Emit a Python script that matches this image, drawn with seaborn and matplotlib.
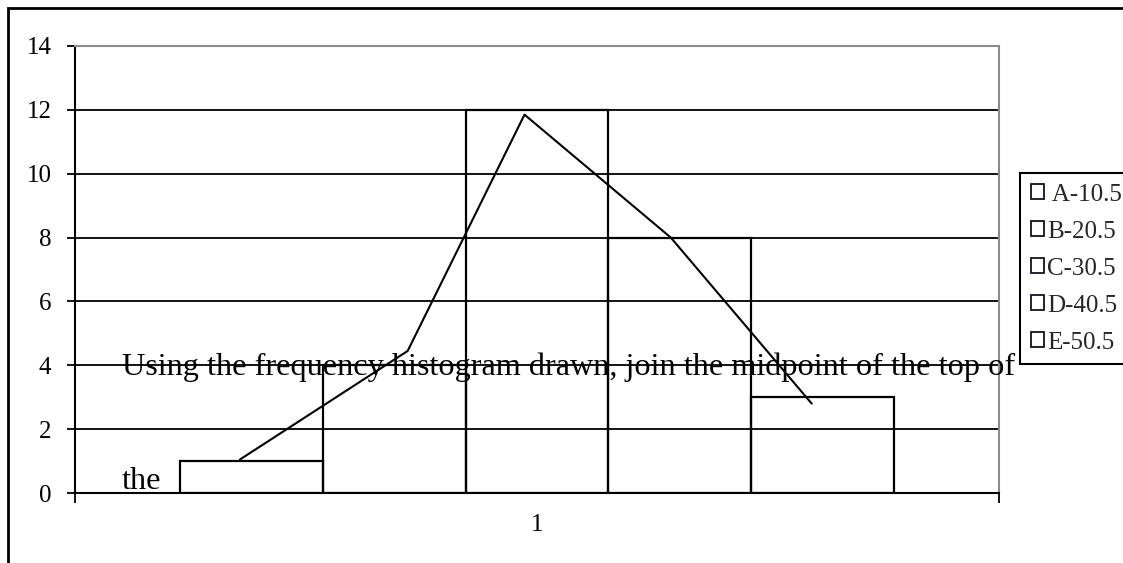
import numpy as np
import pandas as pd
import matplotlib
matplotlib.use("Agg")
import matplotlib.pyplot as plt
from matplotlib.patches import Rectangle
import seaborn as sns

# ---- data ----
category = ["1"]
series = [" A-10.5", "B-20.5", "C-30.5", "D-40.5", "E-50.5"]
frequency = [1, 4, 12, 8, 3]
# hand-drawn frequency polygon (x in category units, y in frequency)
polygon_x = [-0.333, -0.145, -0.014, 0.150, 0.308]
polygon_y = [1.05, 4.45, 11.85, 8.0, 2.8]
yticks = [0, 2, 4, 6, 8, 10, 12, 14]
note_line1 = "Using the frequency histogram drawn, join the midpoint of the top of"
note_line2 = "the"

df = pd.DataFrame({"cat": category * len(series), "series": series, "freq": frequency})

sns.set_theme(style="white")
plt.rcParams["font.family"] = ["Liberation Serif", "DejaVu Serif"]

W, H = 1123, 563
fig = plt.figure(figsize=(W / 100, H / 100), dpi=100)
ax = fig.add_axes([75 / W, 1 - 493 / H, (999 - 75) / W, (493 - 46) / H])

sns.barplot(data=df, x="cat", y="freq", hue="series", palette=["black"] * 5,
            fill=False, linewidth=1.6, ax=ax, width=0.8, legend=True)

ax.plot(polygon_x, polygon_y, color="black", lw=1.5, zorder=5)

ax.set_ylim(0, 14)
ax.set_xlim(-0.518, 0.518)
ax.set_yticks(yticks)
ax.set_yticklabels([str(v) for v in yticks], fontsize=18, color="black")
ax.set_xticks([0])
ax.set_xticklabels(category, fontsize=18, color="black")
ax.set_xlabel("")
ax.set_ylabel("")

ax.set_axisbelow(True)
ax.yaxis.grid(True, color="black", lw=1.3)
ax.xaxis.grid(False)

for s in ["left", "bottom"]:
    ax.spines[s].set_color("black")
    ax.spines[s].set_linewidth(1.5)
for s in ["top", "right"]:
    ax.spines[s].set_color("#8c8c8c")
    ax.spines[s].set_linewidth(1.5)

ax.tick_params(axis="y", which="major", left=True, length=6, width=1.3,
               color="black", pad=11)
ax.tick_params(axis="x", which="major", bottom=False, length=0, pad=15)
ax.set_xticks([-0.518, 0.518], minor=True)
ax.tick_params(axis="x", which="minor", bottom=True, length=7, width=1.3, color="black")

# legend
handles, labels = ax.get_legend_handles_labels()
ax.get_legend().remove()
for h in handles:
    h.set_edgecolor("#1a0f1a")
    h.set_facecolor("white")
    h.set_linewidth(1.3)
leg = fig.legend(handles, labels, loc="upper left",
                 bbox_to_anchor=(1020 / W, 1 - 173 / H), bbox_transform=fig.transFigure,
                 fontsize=18, frameon=True, fancybox=False, borderaxespad=0,
                 handlelength=0.55, handleheight=0.55, handletextpad=0.12,
                 labelspacing=0.6, borderpad=0.42)
leg.get_frame().set_edgecolor("black")
leg.get_frame().set_linewidth(1.5)
leg.get_frame().set_facecolor("white")
leg.get_frame().set_alpha(1)

# overlay note text
fig.text(122 / W, 1 - 375 / H, note_line1, fontsize=23.2, color="black",
         ha="left", va="baseline")
fig.text(122 / W, 1 - 489 / H, note_line2, fontsize=23.2, color="black",
         ha="left", va="baseline")

# outer frame
fig.patches.append(Rectangle((8 / W, -0.1), 1.2, 1 - 8 / H + 0.1, transform=fig.transFigure,
                             fill=False, edgecolor="black", lw=2.0))

fig.savefig("out.png", dpi=100, facecolor="white")
